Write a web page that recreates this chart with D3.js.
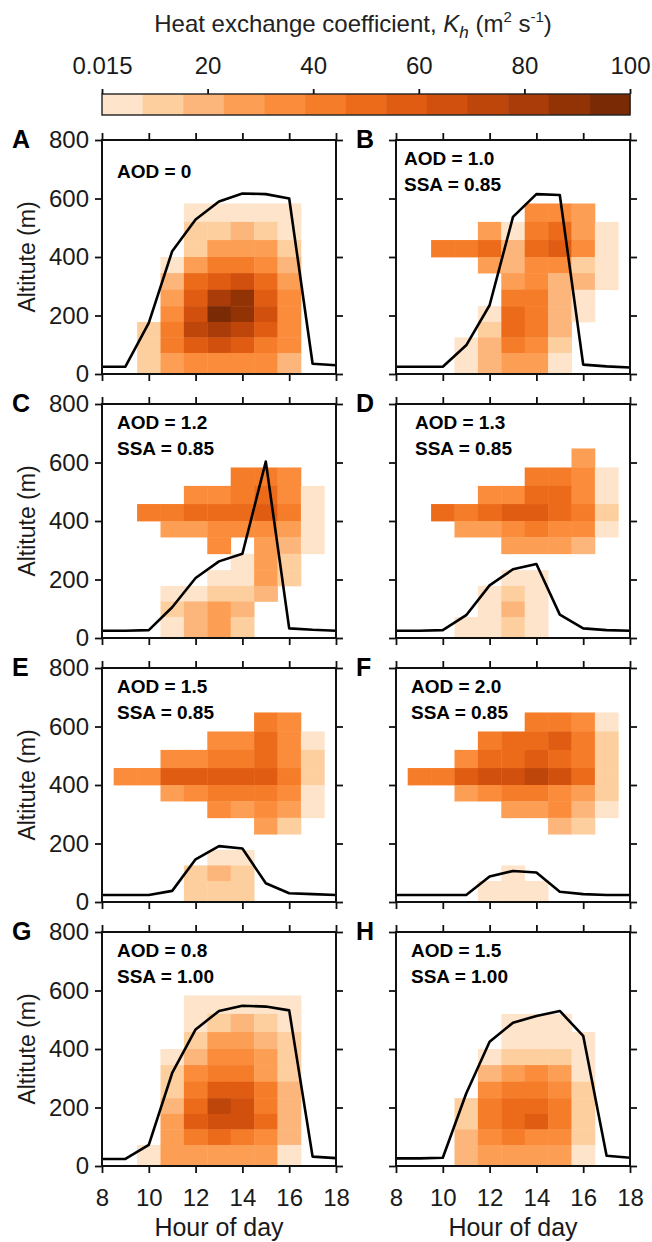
<!DOCTYPE html>
<html lang="en">
<head>
  <meta charset="UTF-8">
  <title>Heat exchange coefficient</title>
  <script src="https://d3js.org/d3.v7.min.js"></script>
  <style>
    body { margin: 0; background: #fff; }
    svg { font-family: "Liberation Sans", Arial, sans-serif; }
    .axis line { stroke: #111; stroke-width: 1.8; }
    .axis text { font-size: 24px; fill: #1a1a1a; }
  </style>
</head>
<body>
  <div id="chart"></div>
  <script>
    // column centres (hour), altitude level edges (m)
    const hours = [9, 10, 11, 12, 13, 14, 15, 16, 17];
    const levels = [0, 72, 125, 178, 232, 288, 345, 400, 458, 520, 583, 648];
    const lineHours = [8, 9, 10, 11, 12, 13, 14, 15, 16, 17, 18];
    const xTicks = [8, 10, 12, 14, 16, 18];
    const yTicks = [0, 200, 400, 600, 800];
    const cbTicks = [0, 20, 40, 60, 80, 100];
    const cbLabels = ["0.015", "20", "40", "60", "80", "100"];

    const letters = ["A", "B", "C", "D", "E", "F", "G", "H"];
    const aod = ["0", "1.0", "1.2", "1.3", "1.5", "2.0", "0.8", "1.5"];
    const ssa = [null, "0.85", "0.85", "0.85", "0.85", "0.85", "1.00", "1.00"];

    // Kh (m2 s-1) per cell, rows from top level (583-648 m) down to 0-72 m
    const khA = [
      [0, 0, 0, 0, 0, 0, 0, 0, 0],
      [0, 0, 0, 4, 4, 4, 4, 4, 0],
      [0, 0, 0, 12, 12, 19, 12, 4, 0],
      [0, 0, 0, 12, 27, 27, 27, 12, 0],
      [0, 0, 4, 27, 42, 42, 35, 19, 0],
      [0, 0, 19, 50, 58, 65, 50, 27, 0],
      [0, 0, 27, 58, 81, 88, 58, 35, 0],
      [0, 0, 35, 65, 96, 88, 65, 35, 0],
      [0, 12, 42, 73, 81, 73, 58, 35, 0],
      [0, 12, 42, 58, 65, 58, 42, 35, 0],
      [0, 12, 27, 35, 35, 35, 35, 19, 0]
    ];
    const khB = [
      [0, 0, 0, 0, 0, 0, 0, 0, 0],
      [0, 0, 0, 0, 0, 35, 35, 27, 0],
      [0, 0, 0, 27, 4, 42, 50, 27, 4],
      [0, 42, 42, 50, 19, 50, 58, 35, 4],
      [0, 0, 0, 27, 19, 35, 35, 12, 4],
      [0, 0, 0, 0, 27, 35, 19, 19, 4],
      [0, 0, 0, 0, 42, 42, 19, 4, 0],
      [0, 0, 0, 4, 50, 42, 19, 4, 0],
      [0, 0, 0, 12, 50, 42, 19, 0, 0],
      [0, 0, 4, 19, 42, 35, 12, 0, 0],
      [0, 0, 4, 19, 27, 27, 4, 0, 0]
    ];
    const khC = [
      [0, 0, 0, 0, 0, 0, 0, 0, 0],
      [0, 0, 0, 0, 0, 42, 42, 35, 0],
      [0, 0, 0, 35, 35, 42, 50, 35, 4],
      [0, 42, 42, 50, 50, 50, 58, 42, 4],
      [0, 0, 27, 27, 35, 35, 35, 27, 4],
      [0, 0, 0, 0, 35, 0, 27, 19, 4],
      [0, 0, 0, 0, 0, 4, 27, 12, 0],
      [0, 0, 0, 0, 4, 4, 27, 12, 0],
      [0, 0, 4, 4, 12, 12, 19, 0, 0],
      [0, 0, 12, 19, 27, 19, 0, 0, 0],
      [0, 0, 4, 19, 27, 12, 0, 0, 0]
    ];
    const khD = [
      [0, 0, 0, 0, 0, 0, 0, 27, 0],
      [0, 0, 0, 0, 0, 42, 42, 35, 4],
      [0, 0, 0, 35, 35, 50, 50, 35, 4],
      [0, 50, 42, 50, 58, 58, 50, 42, 12],
      [0, 0, 27, 27, 35, 42, 35, 35, 4],
      [0, 0, 0, 0, 27, 27, 27, 19, 0],
      [0, 0, 0, 0, 0, 0, 0, 0, 0],
      [0, 0, 0, 0, 4, 4, 0, 0, 0],
      [0, 0, 0, 4, 12, 4, 0, 0, 0],
      [0, 0, 0, 4, 19, 4, 0, 0, 0],
      [0, 0, 4, 4, 12, 4, 0, 0, 0]
    ];
    const khE = [
      [0, 0, 0, 0, 0, 0, 42, 35, 0],
      [0, 0, 0, 0, 35, 35, 50, 35, 4],
      [0, 0, 35, 35, 42, 42, 50, 35, 12],
      [35, 35, 58, 58, 58, 58, 58, 42, 12],
      [0, 0, 27, 35, 42, 42, 42, 35, 4],
      [0, 0, 0, 0, 35, 27, 35, 27, 4],
      [0, 0, 0, 0, 0, 0, 27, 12, 0],
      [0, 0, 0, 0, 0, 0, 0, 0, 0],
      [0, 0, 0, 0, 4, 4, 0, 0, 0],
      [0, 0, 0, 12, 19, 12, 0, 0, 0],
      [0, 0, 0, 12, 12, 12, 0, 0, 0]
    ];
    const khF = [
      [0, 0, 0, 0, 0, 42, 42, 35, 4],
      [0, 0, 0, 42, 50, 50, 58, 42, 12],
      [0, 0, 35, 50, 50, 58, 50, 42, 12],
      [42, 42, 58, 65, 65, 73, 65, 50, 12],
      [0, 0, 27, 35, 42, 42, 35, 27, 12],
      [0, 0, 0, 0, 27, 27, 35, 19, 4],
      [0, 0, 0, 0, 0, 0, 19, 12, 0],
      [0, 0, 0, 0, 0, 0, 0, 0, 0],
      [0, 0, 0, 0, 0, 0, 0, 0, 0],
      [0, 0, 0, 0, 4, 0, 0, 0, 0],
      [0, 0, 0, 4, 4, 4, 0, 0, 0]
    ];
    const khG = [
      [0, 0, 0, 0, 0, 0, 0, 0, 0],
      [0, 0, 0, 4, 4, 4, 4, 4, 0],
      [0, 0, 0, 4, 12, 19, 12, 4, 0],
      [0, 0, 0, 12, 27, 27, 19, 12, 0],
      [0, 0, 4, 19, 35, 35, 27, 12, 0],
      [0, 0, 12, 35, 42, 42, 27, 12, 0],
      [0, 0, 12, 42, 58, 58, 42, 19, 0],
      [0, 0, 19, 50, 73, 65, 42, 19, 0],
      [0, 0, 27, 58, 65, 65, 50, 19, 0],
      [0, 0, 27, 42, 50, 42, 35, 19, 0],
      [0, 4, 27, 27, 27, 27, 27, 4, 0]
    ];
    const khH = [
      [0, 0, 0, 0, 0, 0, 0, 0, 0],
      [0, 0, 0, 0, 0, 0, 0, 0, 0],
      [0, 0, 0, 0, 4, 4, 4, 0, 0],
      [0, 0, 0, 0, 4, 4, 4, 4, 0],
      [0, 0, 0, 4, 12, 12, 12, 4, 0],
      [0, 0, 0, 19, 27, 35, 27, 4, 0],
      [0, 0, 0, 35, 42, 42, 35, 12, 0],
      [0, 0, 12, 42, 50, 50, 42, 12, 0],
      [0, 0, 12, 42, 50, 58, 42, 12, 0],
      [0, 0, 19, 35, 42, 35, 35, 12, 0],
      [0, 0, 19, 27, 27, 27, 27, 4, 0]
    ];

    // boundary layer height (m) at each hour of lineHours
    const blhA = [25, 25, 175, 420, 528, 590, 617, 615, 600, 35, 30];
    const blhB = [25, 25, 25, 98, 235, 537, 615, 612, 32, 26, 22];
    const blhC = [25, 25, 27, 105, 205, 262, 288, 603, 33, 28, 25];
    const blhD = [25, 25, 27, 78, 180, 235, 253, 80, 33, 27, 25];
    const blhE = [24, 24, 24, 38, 146, 191, 183, 64, 30, 27, 24];
    const blhF = [24, 24, 24, 24, 87, 106, 101, 35, 27, 24, 24];
    const blhG = [24, 24, 72, 318, 467, 530, 548, 545, 532, 32, 27];
    const blhH = [26, 26, 28, 248, 425, 490, 513, 530, 445, 35, 28];

    const grids = [khA, khB, khC, khD, khE, khF, khG, khH];
    const blhs = [blhA, blhB, blhC, blhD, blhE, blhF, blhG, blhH];

    const palette = ["#fde4ca", "#fdcf9f", "#fcb57a", "#fc9f55", "#fa8c3b", "#f57c29",
                     "#ec6b1b", "#e05c12", "#d2500d", "#bf460a", "#a93c08", "#923306", "#7a2a05"];

    const width = 652, height = 1242;
    const panelW = 234, panelH = 234;
    const colX = [102, 396];
    const rowY = [140, 404, 668, 932];

    const color = d3.scaleQuantize().domain([0, 100]).range(palette);

    const svg = d3.select("#chart").append("svg")
      .attr("width", width)
      .attr("height", height);

    // Colour bar
    const cb = d3.scaleLinear().domain([0, 100]).range([102, 630]);
    const bins = d3.range(palette.length).map(i => i * 100 / palette.length);
    svg.append("g").selectAll("rect")
      .data(bins)
      .join("rect")
      .attr("x", d => cb(d))
      .attr("y", 94)
      .attr("width", cb(100 / palette.length) - cb(0) + 0.5)
      .attr("height", 21)
      .attr("fill", d => color(d + 1));
    svg.append("rect")
      .attr("x", 102).attr("y", 94).attr("width", 528).attr("height", 21)
      .attr("fill", "none").attr("stroke", "#222").attr("stroke-width", 1.4);

    const cbAxis = d3.axisTop(cb).tickValues(cbTicks).tickSize(5).tickPadding(15)
      .tickFormat((d, i) => cbLabels[i]);
    svg.append("g").attr("class", "axis")
      .attr("transform", "translate(0,94)")
      .call(cbAxis)
      .call(g => g.select(".domain").remove());

    const title = svg.append("text")
      .attr("x", 353).attr("y", 32)
      .attr("text-anchor", "middle")
      .style("font-size", "24px").attr("fill", "#222");
    title.append("tspan").text("Heat exchange coefficient, ");
    title.append("tspan").attr("font-style", "italic").text("K");
    title.append("tspan").attr("font-style", "italic").attr("font-size", "17px").attr("dy", 6).text("h");
    title.append("tspan").attr("dy", -6).text(" (m");
    title.append("tspan").attr("font-size", "15px").attr("dy", -10).text("2");
    title.append("tspan").attr("dy", 10).text(" s");
    title.append("tspan").attr("font-size", "15px").attr("dy", -10).text("-1");
    title.append("tspan").attr("dy", 10).text(")");

    // Panels
    grids.forEach((grid, i) => {
      const col = i % 2, row = Math.floor(i / 2);
      const x0 = colX[col], y0 = rowY[row];
      const x = d3.scaleLinear().domain([8, 18]).range([x0, x0 + panelW]);
      const y = d3.scaleLinear().domain([0, 800]).range([y0 + panelH, y0]);
      const g = svg.append("g");

      const cells = [];
      grid.forEach((r, ri) => {
        const li = levels.length - 2 - ri;
        r.forEach((v, ci) => {
          if (v > 0) cells.push({ h: hours[ci], lo: levels[li], hi: levels[li + 1], v: v });
        });
      });

      g.selectAll("rect.cell")
        .data(cells)
        .join("rect")
        .attr("class", "cell")
        .attr("x", d => x(d.h - 0.5))
        .attr("y", d => y(d.hi))
        .attr("width", d => x(d.h + 0.5) - x(d.h - 0.5) + 0.4)
        .attr("height", d => y(d.lo) - y(d.hi) + 0.4)
        .attr("fill", d => color(d.v));

      const line = d3.line().x(d => x(d[0])).y(d => y(d[1]));
      g.append("path")
        .datum(lineHours.map((h, k) => [h, blhs[i][k]]))
        .attr("d", line)
        .attr("fill", "none")
        .attr("stroke", "#000")
        .attr("stroke-width", 2.6)
        .attr("stroke-linejoin", "round");

      // axes with outward ticks on all four sides
      g.append("g").attr("class", "axis")
        .attr("transform", `translate(${x0},0)`)
        .call(d3.axisLeft(y).tickValues(yTicks).tickSize(7).tickPadding(6)
          .tickFormat(col === 0 ? d3.format("d") : () => ""))
        .call(a => a.select(".domain").remove());
      g.append("g").attr("class", "axis")
        .attr("transform", `translate(${x0 + panelW},0)`)
        .call(d3.axisRight(y).tickValues(yTicks).tickSize(7).tickFormat(() => ""))
        .call(a => a.select(".domain").remove());
      g.append("g").attr("class", "axis")
        .attr("transform", `translate(0,${y0})`)
        .call(d3.axisTop(x).tickValues(xTicks).tickSize(7).tickFormat(() => ""))
        .call(a => a.select(".domain").remove());
      g.append("g").attr("class", "axis")
        .attr("transform", `translate(0,${y0 + panelH})`)
        .call(d3.axisBottom(x).tickValues(xTicks).tickSize(7).tickPadding(16)
          .tickFormat(row === 3 ? d3.format("d") : () => ""))
        .call(a => a.select(".domain").remove());

      g.append("rect")
        .attr("x", x0).attr("y", y0)
        .attr("width", panelW).attr("height", panelH)
        .attr("fill", "none").attr("stroke", "#111").attr("stroke-width", 2);

      // panel letter
      g.append("text")
        .attr("x", col === 0 ? 12 : 356)
        .attr("y", y0 + 8)
        .style("font-size", "25px").style("font-weight", "bold")
        .text(letters[i]);

      // annotation
      const tx = x0 + (i === 1 ? 8 : i === 3 ? 19 : 15);
      if (ssa[i] === null) {
        g.append("text").attr("x", tx).attr("y", y0 + 38)
          .style("font-size", "19px").style("font-weight", "bold")
          .text(`AOD = ${aod[i]}`);
      } else {
        g.append("text").attr("x", tx).attr("y", y0 + 25)
          .style("font-size", "19px").style("font-weight", "bold")
          .text(`AOD = ${aod[i]}`);
        g.append("text").attr("x", tx).attr("y", y0 + 51)
          .style("font-size", "19px").style("font-weight", "bold")
          .text(`SSA = ${ssa[i]}`);
      }

      if (col === 0) {
        g.append("text")
          .attr("transform", `translate(35,${y0 + panelH / 2}) rotate(-90)`)
          .attr("text-anchor", "middle")
          .style("font-size", "23px").attr("fill", "#1a1a1a")
          .text("Altitute (m)");
      }
      if (row === 3) {
        g.append("text")
          .attr("x", x0 + panelW / 2).attr("y", y0 + panelH + 70)
          .attr("text-anchor", "middle")
          .style("font-size", "25px").attr("fill", "#1a1a1a")
          .text("Hour of day");
      }
    });
  </script>
</body>
</html>
